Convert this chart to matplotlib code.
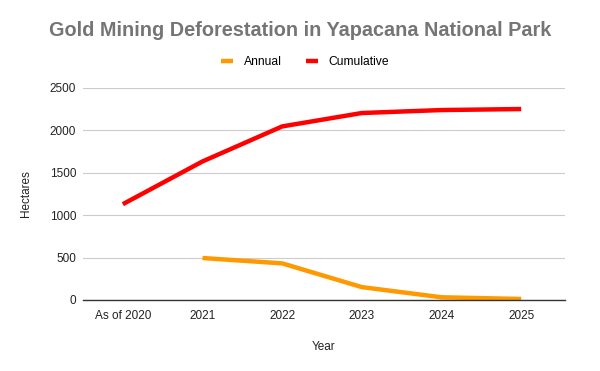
import matplotlib
matplotlib.use('Agg')
import matplotlib.pyplot as plt
import numpy as np

years = ['As of 2020', '2021', '2022', '2023', '2024', '2025']
annual = [np.nan, 495, 432, 152, 32, 12]
cumulative = [1130, 1634, 2047, 2205, 2240, 2252]
yticks = [0, 500, 1000, 1500, 2000, 2500]

plt.rcParams['font.family'] = ['Liberation Sans', 'DejaVu Sans']

fig = plt.figure(figsize=(6, 3.71), dpi=100)
ax = fig.add_axes([83 / 600, 71 / 371, 482 / 600, 212 / 371])

x = np.arange(len(years))
ax.plot(x, annual, color='#ff9900', lw=3.2, label='Annual', solid_capstyle='butt')
ax.plot(x, cumulative, color='#ff0000', lw=3.2, label='Cumulative', solid_capstyle='butt')

ax.set_xlim(-0.5, 5.55)
ax.set_ylim(0, 2500)
ax.set_yticks(yticks)
ax.set_xticks(x)
ax.set_xticklabels(years)
ax.grid(axis='y', color='#cccccc', lw=0.8)
ax.set_axisbelow(True)
for s in ['top', 'right', 'left']:
    ax.spines[s].set_visible(False)
ax.spines['bottom'].set_color('#333333')
ax.spines['bottom'].set_linewidth(1)
ax.tick_params(axis='both', length=0, labelsize=8.5, colors='#222222', pad=7)
ax.tick_params(axis='y', pad=5)
ax.set_xlabel('Year', fontsize=8.5, color='#222222', labelpad=14)
ax.set_ylabel('Hectares', fontsize=8.5, color='#222222', va='center')
# put the y label where the reference has it (about 26 px from the left edge)
ax.yaxis.set_label_coords((26 - 83) / 482, 0.5)

fig.text(0.5, 1 - 31 / 371, 'Gold Mining Deforestation in Yapacana National Park',
         ha='center', va='center', fontsize=14.3, fontweight='bold', color='#757575')
fig.legend(loc='center', bbox_to_anchor=(0.5 + 5 / 600, 1 - 62 / 371), ncol=2, frameon=False,
           fontsize=8.7, handlelength=1.0, handletextpad=0.9, columnspacing=2.0)

fig.savefig('out.png', dpi=100)
